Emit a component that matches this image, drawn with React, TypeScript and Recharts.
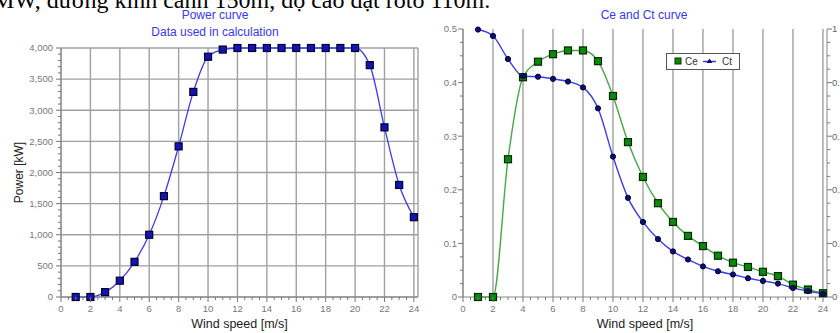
import React from 'react';
import { LineChart, Line, XAxis, YAxis, CartesianGrid, Legend } from 'recharts';

const windSpeed = [1, 2, 3, 4, 5, 6, 7, 8, 9, 10, 11, 12, 13, 14, 15, 16, 17, 18, 19, 20, 21, 22, 23, 24];
const powerKw = [0, 0, 78, 262, 565, 1000, 1620, 2420, 3295, 3860, 3975, 4000, 4000, 4000, 4000, 4000, 4000, 4000, 4000, 4000, 3725, 2725, 1800, 1282];
const ceCurve = [0, 0, 0.257, 0.41, 0.439, 0.453, 0.46, 0.46, 0.44, 0.375, 0.289, 0.224, 0.175, 0.14, 0.114, 0.095, 0.077, 0.064, 0.056, 0.047, 0.039, 0.023, 0.014, 0.007];
const ctCurve = [0.499, 0.487, 0.444, 0.412, 0.411, 0.407, 0.402, 0.391, 0.352, 0.262, 0.185, 0.14, 0.108, 0.085, 0.07, 0.057, 0.048, 0.042, 0.035, 0.03, 0.025, 0.017, 0.011, 0.006];

const windTicks = [0, 2, 4, 6, 8, 10, 12, 14, 16, 18, 20, 22, 24];
const powerTicks = [0, 500, 1000, 1500, 2000, 2500, 3000, 3500, 4000];
const coefTicks = [0, 0.1, 0.2, 0.3, 0.4, 0.5];
const rightTicks = [0, 0.2, 0.4, 0.6, 0.8, 1];

const X_MAX = 24.28;
const FONT = '"Liberation Sans", Arial, sans-serif';
const TICK_COLOR = '#777';
const GRID = '#a0a0a0';

const steps = (from: number, to: number, step: number) => {
  const out: number[] = [];
  for (let v = from; v <= to + 1e-9; v += step) out.push(Math.round(v * 1000) / 1000);
  return out;
};

const isMajor = (v: number, majors: number[]) => majors.some((m) => Math.abs(m - v) < 1e-6);

const powerData = windSpeed.map((w, i) => ({ w, power: powerKw[i] }));
const coefData = windSpeed.map((w, i) => ({ w, ce: ceCurve[i], ct: ctCurve[i] }));

const fmtThousands = (v: number) => v.toLocaleString('en-US');
const fmtCoef = (v: number) => String(Math.round(v * 10) / 10);

function leftTick(majors: number[], fmt: (v: number) => string, gap: number) {
  return (p: any) => {
    const major = isMajor(p.payload.value, majors);
    return (
      <g key={`l-${p.payload.value}`}>
        <line x1={p.x} x2={p.x - (major ? 5 : 3)} y1={p.y} y2={p.y} stroke={TICK_COLOR} />
        {major && (
          <text x={p.x - gap} y={p.y} dy={3.3} textAnchor="end" fontSize={9.5} fill={TICK_COLOR} fontFamily={FONT}>
            {fmt(p.payload.value)}
          </text>
        )}
      </g>
    );
  };
}

function rightTick(majors: number[], fmt: (v: number) => string) {
  return (p: any) => {
    const major = isMajor(p.payload.value, majors);
    return (
      <g key={`r-${p.payload.value}`}>
        <line x1={p.x} x2={p.x + (major ? 5 : 3)} y1={p.y} y2={p.y} stroke={TICK_COLOR} />
        {major && (
          <text x={p.x + 5} y={p.y} dy={3.3} textAnchor="start" fontSize={9.5} fill="#666" fontFamily={FONT}>
            {fmt(p.payload.value)}
          </text>
        )}
      </g>
    );
  };
}

function bottomTick(p: any) {
  const major = isMajor(p.payload.value, windTicks);
  return (
    <g key={`b-${p.payload.value}`}>
      <line x1={p.x} x2={p.x} y1={p.y} y2={p.y + (major ? 5 : 3)} stroke={TICK_COLOR} />
      {major && (
        <text x={p.x} y={p.y + 15} textAnchor="middle" fontSize={9.5} fill={TICK_COLOR} fontFamily={FONT}>
          {p.payload.value}
        </text>
      )}
    </g>
  );
}

const squareDot = (fill: string, stroke: string) => (p: any) => (
  <rect key={`s-${p.index}`} x={p.cx - 3.5} y={p.cy - 3.5} width={7} height={7} fill={fill} stroke={stroke} strokeWidth={1.2} />
);
const circleDot = (p: any) => <circle key={`c-${p.index}`} cx={p.cx} cy={p.cy} r={2.6} fill="#10106a" stroke="#000040" />;

const CoefLegend = () => (
  <div
    style={{
      width: 72,
      height: 15,
      border: '1px solid #555',
      background: '#fff',
      display: 'flex',
      alignItems: 'center',
      fontFamily: FONT,
      fontSize: 10,
      color: '#333',
      boxSizing: 'content-box',
    }}
  >
    <svg width={18} height={15}>
      <rect x={8} y={4} width={6} height={6} fill="#0a8a0a" stroke="#043304" />
    </svg>
    <span style={{ width: 17 }}>Ce</span>
    <svg width={15} height={15}>
      <line x1={1} x2={14} y1={7.5} y2={7.5} stroke="#3a3ae8" strokeWidth={1.5} />
      <polygon points="7.5,4.5 10.5,9 4.5,9" fill="#10106a" />
    </svg>
    <span style={{ marginLeft: 5 }}>Ct</span>
  </div>
);

const titleStyle: React.CSSProperties = {
  position: 'absolute',
  fontFamily: FONT,
  fontSize: 12,
  color: '#3838f0',
  whiteSpace: 'nowrap',
  transform: 'translateX(-50%)',
  lineHeight: '14px',
};

export default function App() {
  return (
    <div style={{ position: 'absolute', left: 0, top: 0, width: 840, height: 333, background: '#fff', overflow: 'hidden' }}>
      <div
        style={{
          position: 'absolute',
          left: -7,
          top: -12,
          fontFamily: '"Liberation Serif", "Times New Roman", serif',
          fontSize: 24,
          lineHeight: '24px',
          whiteSpace: 'nowrap',
          color: '#000',
        }}
      >
        MW, đường kính cánh 150m, độ cao đặt rôto 110m.
      </div>
      <div style={{ ...titleStyle, left: 215, top: 8 }}>Power curve</div>
      <div style={{ ...titleStyle, left: 215, top: 25 }}>Data used in calculation</div>
      <div style={{ ...titleStyle, left: 644, top: 8 }}>Ce and Ct curve</div>

      <div style={{ position: 'absolute', left: 0, top: 0 }}>
        <LineChart width={430} height={333} data={powerData} margin={{ top: 48, right: 12, left: 0, bottom: 6 }}>
          <CartesianGrid stroke={GRID} strokeWidth={1.4} horizontalValues={powerTicks} verticalValues={[...windTicks, X_MAX]} />
          <XAxis
            type="number"
            dataKey="w"
            domain={[0, X_MAX]}
            ticks={steps(0, 24, 0.5)}
            interval={0}
            height={30}
            tickSize={0}
            tickMargin={0}
            tickLine={false}
            tick={bottomTick}
            axisLine={{ stroke: '#888' }}
            label={{ value: 'Wind speed [m/s]', position: 'insideBottom', offset: -1, fill: '#222', fontSize: 12.5, fontFamily: FONT }}
          />
          <YAxis
            type="number"
            domain={[0, 4000]}
            ticks={steps(0, 4000, 100)}
            interval={0}
            width={61}
            tickSize={0}
            tickMargin={0}
            tickLine={false}
            tick={leftTick(powerTicks, fmtThousands, 8)}
            axisLine={{ stroke: '#888' }}
            label={{ value: 'Power [kW]', angle: -90, position: 'insideLeft', offset: 19, fill: '#222', fontSize: 12, fontFamily: FONT, style: { textAnchor: 'middle' } }}
          />
          <Line
            type="monotone"
            dataKey="power"
            stroke="#3c3cf0"
            strokeWidth={1.3}
            dot={squareDot('#1414b4', '#00002a')}
            isAnimationActive={false}
          />
        </LineChart>
      </div>

      <div style={{ position: 'absolute', left: 420, top: 0 }}>
        <LineChart width={440} height={333} data={coefData} margin={{ top: 29, right: 10, left: 0, bottom: 6 }}>
          <CartesianGrid stroke={GRID} strokeWidth={1.4} horizontalValues={coefTicks.slice(0, 5)} verticalValues={windTicks} />
          <XAxis
            type="number"
            dataKey="w"
            domain={[0, 24.27]}
            ticks={steps(0, 24, 0.5)}
            interval={0}
            height={30}
            tickSize={0}
            tickMargin={0}
            tickLine={false}
            tick={bottomTick}
            axisLine={{ stroke: '#888' }}
            label={{ value: 'Wind speed [m/s]', position: 'insideBottom', offset: -1, fill: '#222', fontSize: 12.5, fontFamily: FONT }}
          />
          <YAxis
            yAxisId="left"
            type="number"
            domain={[0, 0.5]}
            ticks={steps(0, 0.5, 0.025)}
            interval={0}
            width={43}
            tickSize={0}
            tickMargin={0}
            tickLine={false}
            tick={leftTick(coefTicks, fmtCoef, 6)}
            axisLine={{ stroke: '#888' }}
          />
          <YAxis
            yAxisId="right"
            orientation="right"
            type="number"
            domain={[0, 1]}
            ticks={steps(0, 1, 0.05)}
            interval={0}
            width={23}
            tickSize={0}
            tickMargin={0}
            tickLine={false}
            tick={rightTick(rightTicks, fmtCoef)}
            axisLine={{ stroke: '#888' }}
          />
          <Legend
            layout="horizontal"
            verticalAlign="middle"
            align="center"
            content={() => <CoefLegend />}
            wrapperStyle={{ left: 246, top: 53, width: 74, height: 17 }}
          />
          {/* invisible series so the secondary axis gets its ticks */}
          <Line
            yAxisId="right"
            dataKey="ct"
            stroke="none"
            dot={false}
            activeDot={false}
            legendType="none"
            isAnimationActive={false}
          />
          <Line
            yAxisId="left"
            type="monotone"
            dataKey="ce"
            stroke="#45a845"
            strokeWidth={1.4}
            dot={squareDot('#0a8a0a', '#032803')}
            isAnimationActive={false}
          />
          <Line
            yAxisId="left"
            type="monotone"
            dataKey="ct"
            stroke="#3c3cf0"
            strokeWidth={1.4}
            dot={circleDot}
            isAnimationActive={false}
          />
        </LineChart>
      </div>
    </div>
  );
}
